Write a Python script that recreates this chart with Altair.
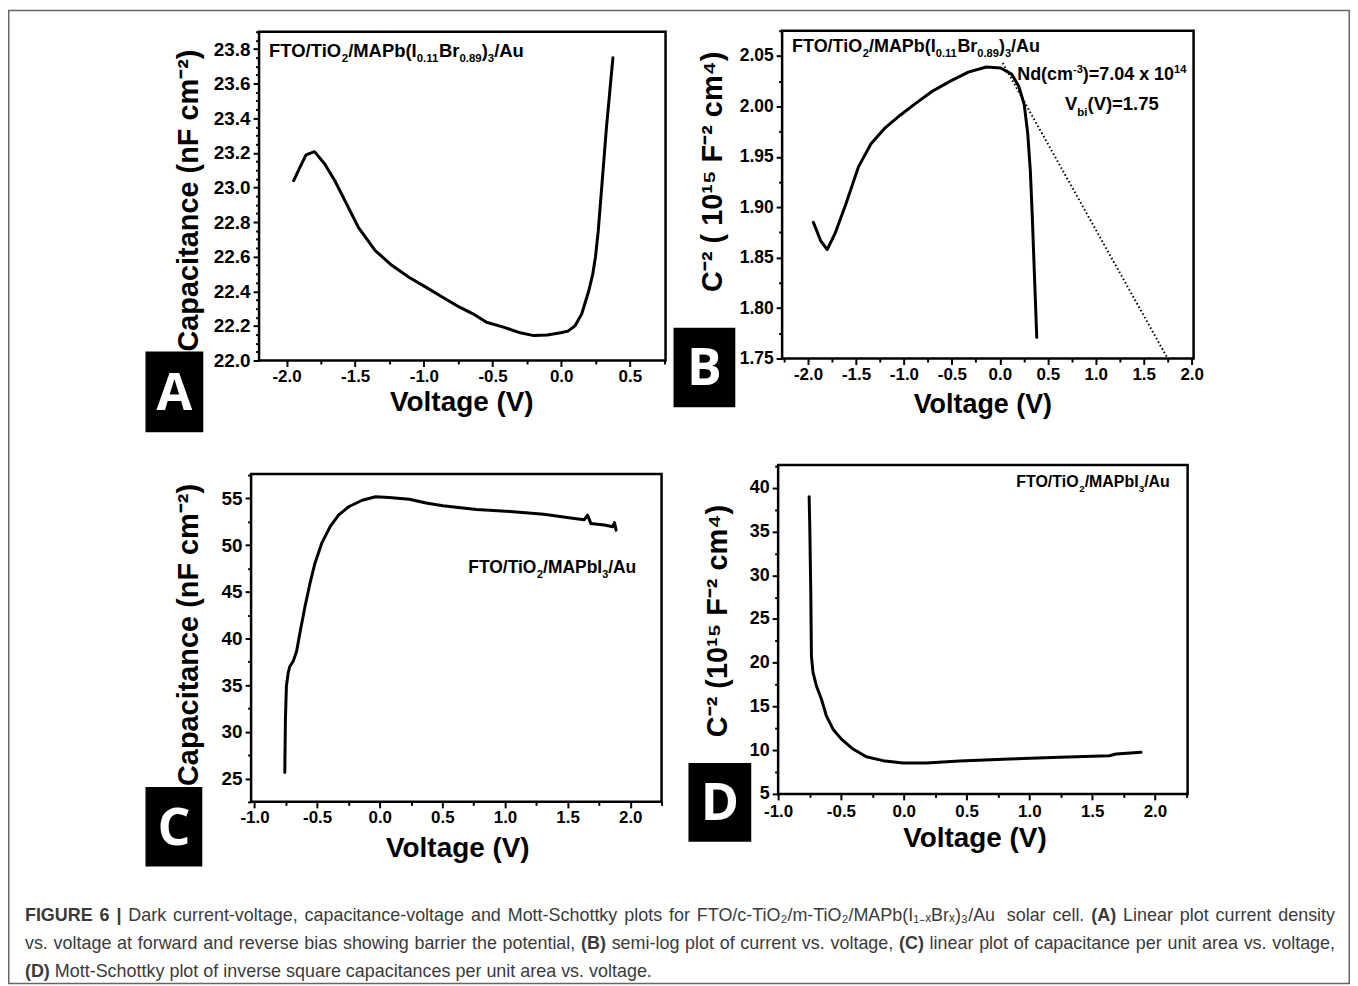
import altair as alt
import pandas as pd

# ---------------- data ----------------
# (A) capacitance vs voltage, FTO/TiO2/MAPb(I0.11Br0.89)3/Au
a_voltage = [-1.948, -1.900, -1.858, -1.796, -1.722, -1.649, -1.575, -1.477, -1.354, -1.231,
             -1.109, -0.986, -0.863, -0.740, -0.642, -0.544, -0.421, -0.298, -0.200, -0.102,
             -0.003, 0.050, 0.100, 0.150, 0.200, 0.230, 0.250, 0.270, 0.290, 0.310, 0.330,
             0.350, 0.365, 0.377]
a_capacitance = [23.04, 23.12, 23.188, 23.207, 23.136, 23.04, 22.924, 22.77, 22.635, 22.549,
                 22.481, 22.424, 22.366, 22.308, 22.27, 22.221, 22.193, 22.16, 22.144, 22.148,
                 22.16, 22.17, 22.2, 22.27, 22.4, 22.5, 22.6, 22.75, 22.95, 23.15, 23.35,
                 23.52, 23.65, 23.75]

# (B) Mott-Schottky, FTO/TiO2/MAPb(I0.11Br0.89)3/Au
b_voltage = [-1.944, -1.869, -1.800, -1.718, -1.606, -1.474, -1.343, -1.193, -1.042, -0.892,
             -0.704, -0.516, -0.329, -0.141, 0.009, 0.122, 0.197, 0.254, 0.291, 0.318,
             0.340, 0.359, 0.385]
b_inv_c2 = [1.885, 1.867, 1.858, 1.874, 1.903, 1.940, 1.963, 1.979, 1.991, 2.002,
            2.015, 2.025, 2.034, 2.039, 2.038, 2.032, 2.020, 2.002, 1.973, 1.936,
            1.887, 1.837, 1.771]
b_fit_voltage = [0.03, 1.75]
b_fit_inv_c2 = [2.043, 1.75]

# (C) capacitance vs voltage, FTO/TiO2/MAPbI3/Au
c_voltage = [-0.758, -0.753, -0.745, -0.731, -0.718, -0.691, -0.664, -0.637, -0.597, -0.557,
             -0.517, -0.463, -0.396, -0.329, -0.248, -0.140, -0.033, 0.074, 0.236, 0.370,
             0.504, 0.773, 1.041, 1.310, 1.525, 1.632, 1.659, 1.686, 1.793, 1.861,
             1.874, 1.887]
c_capacitance = [25.64, 31.33, 34.9, 36.3, 37.0, 37.56, 38.6, 40.6, 43.4, 45.9,
                 48.06, 50.2, 51.97, 53.2, 54.1, 54.8, 55.18, 55.1, 54.9, 54.5,
                 54.2, 53.8, 53.6, 53.3, 52.9, 52.7, 53.2, 52.3, 52.15, 51.97,
                 52.4, 51.6]

# (D) Mott-Schottky, FTO/TiO2/MAPbI3/Au
d_voltage = [-0.753, -0.748, -0.740, -0.735, -0.722, -0.695, -0.655, -0.616, -0.563, -0.496,
             -0.404, -0.298, -0.165, -0.006, 0.179, 0.444, 0.842, 1.240, 1.637, 1.690, 1.889]
d_inv_c2 = [38.98, 35.56, 27.97, 20.76, 18.86, 17.34, 15.82, 13.92, 12.4, 11.26,
            10.13, 9.25, 8.8, 8.53, 8.53, 8.76, 8.99, 9.18, 9.37, 9.56, 9.75]

# tick labels (major) and minor tick positions
a_x_major = [-2.0, -1.5, -1.0, -0.5, 0.0, 0.5]
a_x_minor = [-1.75, -1.25, -0.75, -0.25, 0.25, 0.75]
a_y_major = [22.0, 22.2, 22.4, 22.6, 22.8, 23.0, 23.2, 23.4, 23.6, 23.8]
a_y_minor = [22.05, 22.1, 22.15, 22.25, 22.3, 22.35, 22.45, 22.5, 22.55, 22.65, 22.7, 22.75,
             22.85, 22.9, 22.95, 23.05, 23.1, 23.15, 23.25, 23.3, 23.35, 23.45, 23.5, 23.55,
             23.65, 23.7, 23.75, 23.85, 23.9]
b_x_major = [-2.0, -1.5, -1.0, -0.5, 0.0, 0.5, 1.0, 1.5, 2.0]
b_x_minor = [-2.25, -1.75, -1.25, -0.75, -0.25, 0.25, 0.75, 1.25, 1.75]
b_y_major = [1.75, 1.8, 1.85, 1.9, 1.95, 2.0, 2.05]
b_y_minor = [1.775, 1.825, 1.875, 1.925, 1.975, 2.025, 2.075]
c_x_major = [-1.0, -0.5, 0.0, 0.5, 1.0, 1.5, 2.0]
c_x_minor = [-0.75, -0.25, 0.25, 0.75, 1.25, 1.75, 2.25]
c_y_major = [25, 30, 35, 40, 45, 50, 55]
c_y_minor = [22.5, 27.5, 32.5, 37.5, 42.5, 47.5, 52.5, 57.5]
d_x_major = [-1.0, -0.5, 0.0, 0.5, 1.0, 1.5, 2.0]
d_x_minor = [-0.75, -0.25, 0.25, 0.75, 1.25, 1.75, 2.25]
d_y_major = [5, 10, 15, 20, 25, 30, 35, 40]
d_y_minor = [7.5, 12.5, 17.5, 22.5, 27.5, 32.5, 37.5, 42.5]

# ---------------- layout ----------------
W, H = 1347, 978          # whole figure (view == svg, padding 0); page offset 8 px
PX = 8
FONT = "Liberation Sans"
DUMMY = alt.Data(values=[{}])

# Arial / Liberation Sans advance widths (1/1000 em)
REG_W = {' ': 278, '(': 333, ')': 333, ',': 278, '-': 333, '.': 278, '/': 278, '|': 260,
         'A': 667, 'B': 667, 'C': 722, 'D': 722, 'E': 667, 'F': 611, 'G': 778, 'H': 722,
         'I': 278, 'L': 556, 'M': 833, 'N': 722, 'O': 778, 'P': 667, 'R': 722, 'S': 667,
         'T': 611, 'U': 722, 'V': 667,
         'a': 556, 'b': 556, 'c': 500, 'd': 556, 'e': 556, 'f': 278, 'g': 556, 'h': 556,
         'i': 222, 'j': 222, 'k': 500, 'l': 222, 'm': 833, 'n': 556, 'o': 556, 'p': 556,
         'q': 556, 'r': 333, 's': 500, 't': 278, 'u': 556, 'v': 500, 'w': 722, 'x': 500,
         'y': 500, 'z': 500}
BOLD_W = {' ': 278, '(': 333, ')': 333, '.': 278, '/': 278, '=': 584, '-': 333, 'x': 556,
          '|': 280, 'A': 722, 'B': 722, 'C': 722, 'D': 722, 'E': 667, 'F': 611, 'G': 778,
          'I': 278, 'M': 833, 'N': 722, 'O': 778, 'P': 667, 'R': 722, 'T': 611, 'U': 722,
          'V': 667, 'a': 556, 'b': 611, 'c': 556, 'd': 611, 'i': 278, 'm': 889, 'r': 389,
          'u': 611}


def tw(s, size, bold=True):
    table = BOLD_W if bold else REG_W
    return sum(table.get(ch, 556 if ch.isdigit() else 150) for ch in s) * size / 1000.0


def fmt_expr(fmt):
    if fmt == 'd':
        return "format(datum.value, 'd')"
    return f"(datum.value < 0 ? '-' : '') + format(abs(datum.value), '{fmt}')"


def major_axis(orient, majors, fmt, offset, title, tx, ty, tsize, lsize, lpad):
    kw = dict(orient=orient, offset=offset, values=majors, labelExpr=fmt_expr(fmt),
              tickSize=6, tickWidth=2, tickColor='black', domain=False, grid=False,
              labelFont=FONT, labelFontSize=lsize, labelFontWeight='bold', labelColor='black',
              labelPadding=lpad, labelFlush=False, labelOverlap=False,
              title=title, titleFont=FONT, titleFontSize=tsize, titleFontWeight='bold',
              titleColor='black', titleX=tx, titleY=ty, titleAlign='center')
    if orient == 'left':
        kw.update(titleAngle=270, titleBaseline='middle')
    else:
        kw.update(titleAngle=0, titleBaseline='alphabetic')
    return alt.Axis(**kw)


def minor_axis(orient, minor_vals, offset):
    return alt.Axis(orient=orient, offset=offset, values=minor_vals, labels=False, title=None,
                    tickSize=3.5, tickWidth=2, tickColor='black', domain=False, grid=False)


def rich(parts, x, y, size, sx, sy):
    layers = []
    dx = 0.0
    for t, kind in parts:
        fs = size if kind == '' else size * 0.62
        dy = 0 if kind == '' else (size * 0.28 if kind == 'sub' else -size * 0.42)
        layers.append(
            alt.Chart(DUMMY).mark_text(text=t, align='left', baseline='alphabetic', font=FONT,
                                       fontWeight='bold', fontSize=fs, dx=dx, dy=dy,
                                       color='black')
            .encode(x=alt.X(datum=x, scale=sx, axis=None),
                    y=alt.Y(datum=y, scale=sy, axis=None)))
        dx += tw(t, fs)
    return layers


def panel(xs, ys, box, xdom, ydom, xmaj, xmin_, ymaj, ymin_, xfmt, yfmt,
          ytitle, ytitle_c, ytitle_size, ylab_size, xtitle_c, xtitle_size, xlab_pad, extra):
    L, R, T, B = box  # page coordinates of the plot frame
    sx = alt.Scale(domain=xdom, range=[L - PX, R - PX], nice=False, zero=False)
    sy = alt.Scale(domain=ydom, range=[B - PX, T - PX], nice=False, zero=False)
    xoff = (B - PX) - H
    yoff = -(L - PX)
    xaxis = major_axis('bottom', xmaj, xfmt, xoff, 'Voltage (V)',
                       xtitle_c[0] - PX, xtitle_c[1] - B, xtitle_size, 17, xlab_pad)
    yaxis = major_axis('left', ymaj, yfmt, yoff, ytitle,
                       ytitle_c[0] - L, ytitle_c[1] - PX, ytitle_size, ylab_size, 3)
    df = pd.DataFrame({'v': xs, 'y': ys})
    line = alt.Chart(df).mark_line(color='black', strokeWidth=3, strokeJoin='round',
                                   strokeCap='round').encode(
        x=alt.X('v:Q', scale=sx, axis=xaxis),
        y=alt.Y('y:Q', scale=sy, axis=yaxis))
    frame = alt.Chart(DUMMY).mark_rect(fillOpacity=0, stroke='black', strokeWidth=2.5).encode(
        x=alt.X(datum=xdom[0], scale=sx, axis=minor_axis('bottom', xmin_, xoff)),
        x2=alt.X2(datum=xdom[1]),
        y=alt.Y(datum=ydom[0], scale=sy, axis=minor_axis('left', ymin_, yoff)),
        y2=alt.Y2(datum=ydom[1]))
    layers = [line, frame]
    for item in extra:
        if item[0] == 'rich':
            layers += rich(item[1], item[2], item[3], item[4], sx, sy)
        elif item[0] == 'dots':
            dfd = pd.DataFrame({'v': item[1], 'y': item[2]})
            layers.append(alt.Chart(dfd).mark_line(color='black', strokeWidth=2,
                                                   strokeDash=[1.5, 2.5]).encode(
                x=alt.X('v:Q', scale=sx, axis=None), y=alt.Y('y:Q', scale=sy, axis=None)))
    return alt.layer(*layers).resolve_axis(x='independent', y='independent')


MAPB_MIX = [("FTO/TiO", ''), ("2", 'sub'), ("/MAPb(I", ''), ("0.11", 'sub'), ("Br", ''),
            ("0.89", 'sub'), (")", ''), ("3", 'sub'), ("/Au", '')]
MAPBI3 = [("FTO/TiO", ''), ("2", 'sub'), ("/MAPbI", ''), ("3", 'sub'), ("/Au", '')]
ND = [("Nd(cm", ''), ("-3", 'sup'), (")=7.04 x 10", ''), ("14", 'sup')]
VBI = [("V", ''), ("bi", 'sub'), ("(V)=1.75", '')]

pA = panel(a_voltage, a_capacitance, (260, 668, 30, 360), [-2.2, 0.76], [22.0, 23.9],
           a_x_major, a_x_minor, a_y_major, a_y_minor, '.1f', '.1f',
           'Capacitance (nF cm\u207b\u00b2)', (189, 199), 29, 19, (463, 410), 28, 2,
           [('rich', MAPB_MIX, -2.127, 23.756, 18.5)])
pB = panel(b_voltage, b_inv_c2, (785, 1198, 29, 358), [-2.27, 2.02], [1.75, 2.075],
           b_x_major, b_x_minor, b_y_major, b_y_minor, '.1f', '.2f',
           'C\u207b\u00b2 ( 10\u00b9\u2075 F\u207b\u00b2 cm\u2074)', (715, 170), 29, 17.5, (986, 412), 27, 2,
           [('dots', b_fit_voltage, b_fit_inv_c2),
            ('rich', MAPB_MIX, -2.166, 2.054, 18),
            ('rich', ND, 0.181, 2.026, 18),
            ('rich', VBI, 0.68, 1.996, 18.5)])
pC = panel(c_voltage, c_capacitance, (252, 664, 474, 803), [-1.027, 2.25], [22.5, 57.6],
           c_x_major, c_x_minor, c_y_major, c_y_minor, '.1f', 'd',
           'Capacitance (nF cm\u207b\u00b2)', (189, 635), 29, 19, (459, 858), 28, 2,
           [('rich', MAPBI3, 0.707, 47.04, 17.5)])
pD = panel(d_voltage, d_inv_c2, (781, 1192, 465, 795), [-1.0, 2.26], [5.0, 42.6],
           d_x_major, d_x_minor, d_y_major, d_y_minor, '.1f', 'd',
           'C\u207b\u00b2 (10\u00b9\u2075 F\u207b\u00b2 cm\u2074)', (720, 621), 29, 18, (978, 848), 28, 4,
           [('rich', MAPBI3, 0.896, 40.09, 16)])

# panel letter boxes (page coordinates)
letters = [("A", 146, 351, 204, 432), ("B", 676, 327, 738, 407),
           ("C", 146, 788, 203, 868), ("D", 691, 764, 754, 843)]
deco = []
for t, x0, y0, x1, y1 in letters:
    deco.append(alt.Chart(DUMMY).mark_rect(color='black').encode(
        x=alt.value(x0 - PX), x2=alt.value(x1 - PX), y=alt.value(y0 - PX), y2=alt.value(y1 - PX)))
    deco.append(alt.Chart(DUMMY).mark_text(text=t, font='Open Sans', fontWeight='bold',
                                           fontSize=52, color='white', align='center',
                                           baseline='middle').encode(
        x=alt.value((x0 + x1) / 2 - PX), y=alt.value((y0 + y1) / 2 + 2 - PX)))

# caption: justified lines (last line left aligned)
caption_lines = [
    (923, True, [("FIGURE 6 |", True),
                 ("Dark current-voltage, capacitance-voltage and Mott-Schottky plots for "
                  "FTO/c-TiO\u2082/m-TiO\u2082/MAPb(I\u2081\u208b\u2093Br\u2093)\u2083/Au solar cell.", False),
                 ("(A)", True), ("Linear plot current density", False)]),
    (951, True, [("vs. voltage at forward and reverse bias showing barrier the potential,", False),
                 ("(B)", True), ("semi-log plot of current vs. voltage,", False),
                 ("(C)", True), ("linear plot of capacitance per unit area vs. voltage,", False)]),
    (979, False, [("(D)", True),
                  ("Mott-Schottky plot of inverse square capacitances per unit area vs. voltage.", False)]),
]
CAP_SIZE = 18
CAP_LEFT, CAP_RIGHT = 25, 1340
for yb, justify, segs in caption_lines:
    words = []
    for text, bold in segs:
        for w in text.split(' '):
            words.append((w, bold))
    widths = [tw(w, CAP_SIZE, b) for w, b in words]
    if justify:
        gap = (CAP_RIGHT - CAP_LEFT - sum(widths)) / (len(words) - 1)
    else:
        gap = 0.278 * CAP_SIZE
    x = CAP_LEFT
    for (w, bold), wd in zip(words, widths):
        deco.append(alt.Chart(DUMMY).mark_text(text=w, font=FONT, fontSize=CAP_SIZE,
                                               fontWeight='bold' if bold else 'normal',
                                               color='#3a3a3a', align='left',
                                               baseline='alphabetic').encode(
            x=alt.value(x - PX), y=alt.value(yb - PX)))
        x += wd + gap

border = alt.Chart(DUMMY).mark_rect(fillOpacity=0, stroke='#666666', strokeWidth=1.5).encode(
    x=alt.value(0.75), x2=alt.value(W - 0.75), y=alt.value(0.75), y2=alt.value(H - 0.75))

chart = alt.layer(pA, pB, pC, pD, *deco, border).resolve_scale(
    x='independent', y='independent').resolve_axis(
    x='independent', y='independent').properties(
    width=W, height=H, padding=0, autosize='none', background='white').configure_view(stroke=None)

chart.save("out.html", embed_options={"renderer": "svg", "actions": False})
